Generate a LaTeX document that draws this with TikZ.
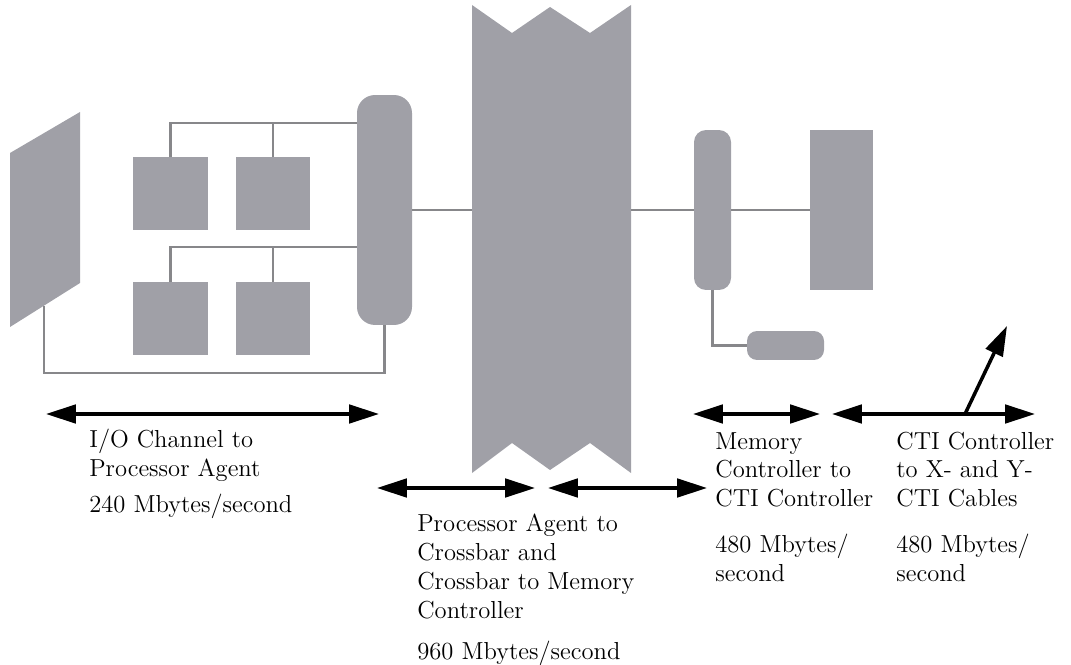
\documentclass[tikz,border=0pt]{standalone}
\usetikzlibrary{arrows.meta,calc}
\definecolor{blockgray}{RGB}{160,160,167}
\definecolor{wiregray}{RGB}{135,135,138}
\begin{document}
\begin{tikzpicture}[x=0.02cm,y=-0.02cm,
  block/.style={fill=blockgray, draw=none, inner sep=0pt, outer sep=0pt, rectangle},
  wire/.style={draw=wiregray, line width=1.7pt},
  bihead/.style={black, line width=2pt, {Triangle[length=17pt,width=10.5pt]}-{Triangle[length=17pt,width=10.5pt]}},
  onehead/.style={black, line width=2pt, -{Triangle[length=17pt,width=10.5pt]}},
  lbl/.style={anchor=north west, align=left, inner sep=0pt, font=\fontsize{14}{16.4}\selectfont}]
\useasboundingbox (0,0) rectangle (1071,665);

% I/O channel (parallelogram)
\fill[blockgray] (10,153) -- (80,112) -- (80,283) -- (10,327) -- cycle;
\coordinate (ioport) at (44,306);

% processors
\node[block, minimum width=1.5cm, minimum height=1.46cm] (TL) at (170.5,193.5) {};
\node[block, minimum width=1.48cm, minimum height=1.46cm] (TR) at (273,193.5) {};
\node[block, minimum width=1.5cm, minimum height=1.46cm] (BL) at (170.5,318.5) {};
\node[block, minimum width=1.48cm, minimum height=1.46cm] (BR) at (273,318.5) {};

% processor agent
\node[block, minimum width=1.1cm, minimum height=4.6cm, rounded corners=0.36cm] (PA) at (384.5,210) {};

% crossbar
\fill[blockgray] (472,5) -- (512,33) -- (550,7) -- (590,33) -- (631,5) -- (631,473)
  -- (590,443) -- (550,470) -- (512,443) -- (472,473) -- cycle;
\coordinate (xbarL) at (472,210);
\coordinate (xbarR) at (631,210);

% memory controller, memory, CTI controller
\node[block, minimum width=0.74cm, minimum height=3.2cm, rounded corners=0.24cm] (MC) at (712.5,210) {};
\node[block, minimum width=1.26cm, minimum height=3.22cm] (MEM) at (841.5,210) {};
\node[block, minimum width=1.54cm, minimum height=0.58cm, rounded corners=0.2cm] (CTI) at (785.5,345.5) {};

% wires
\coordinate (topbus) at (357,123);
\coordinate (botbus) at (357,247);
\draw[wire] (TL.north) |- (topbus);
\draw[wire] (TR.north) -- (TR.north |- topbus);
\draw[wire] (BL.north) |- (botbus);
\draw[wire] (BR.north) -- (BR.north |- botbus);
\draw[wire] (ioport) -- (44,373) -| (PA.south);
\draw[wire] (PA.east) -- (xbarL);
\draw[wire] (xbarR) -- (MC.west);
\draw[wire] (MC.east) -- (MEM.west);
\draw[wire] (MC.south) |- (CTI.west);

% bandwidth arrows
\coordinate (a1l) at (46,414);  \coordinate (a1r) at (379,414);
\coordinate (a2l) at (377,488); \coordinate (a2r) at (535,488);
\coordinate (a3l) at (548,488); \coordinate (a3r) at (707,488);
\coordinate (a4l) at (693,414); \coordinate (a4r) at (820,414);
\coordinate (a5l) at (832,414); \coordinate (a5r) at (1035,414);
\coordinate (a6s) at (965,414); \coordinate (a6e) at (1007,326);
\draw[bihead] (a1l) -- (a1r);
\draw[bihead] (a2l) -- (a2r);
\draw[bihead] (a3l) -- (a3r);
\draw[bihead] (a4l) -- (a4r);
\draw[bihead] (a5l) -- (a5r);
\draw[onehead] (a6s) -- (a6e);

% labels
\node[lbl] (t1) at (89,428.5) {I/O Channel to\\Processor Agent\\[4.5pt]240 Mbytes/second};
\node[lbl] (t2) at (417,514) {Processor Agent to\\Crossbar and\\Crossbar to Memory\\Controller\\[7pt]960 Mbytes/second};
\node[lbl] (t3) at (715,432) {Memory\\Controller to\\CTI Controller\\[9.5pt]480 Mbytes/\\second};
\node[lbl] (t4) at (896,431.5) {CTI Controller\\to X- and Y-\\CTI Cables\\[9.5pt]480 Mbytes/\\second};
\end{tikzpicture}
\end{document}
